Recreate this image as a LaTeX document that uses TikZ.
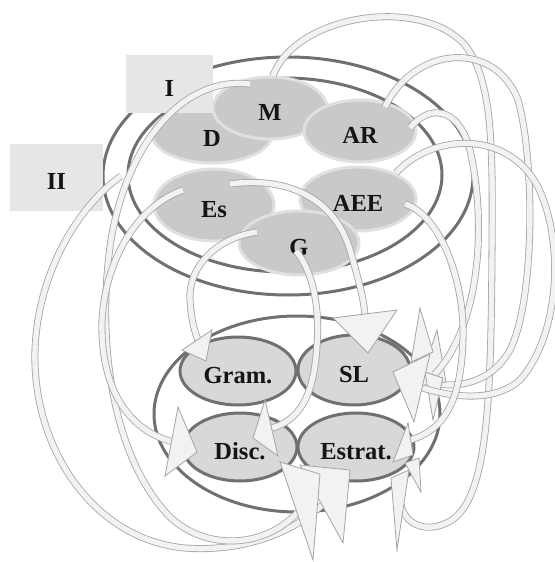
\documentclass[tikz,border=0pt]{standalone}
\usepackage{fontspec}
\setmainfont{Liberation Serif}
\usetikzlibrary{shapes.geometric}
\definecolor{ringc}{HTML}{707070}
\definecolor{topfill}{HTML}{C9C9C9}
\definecolor{topborder}{HTML}{E0E0E0}
\definecolor{ovalfill}{HTML}{D8D8D8}
\definecolor{boxfill}{HTML}{E6E6E6}
\definecolor{bandfill}{HTML}{F1F2F3}
\definecolor{bandline}{HTML}{A4A4A4}
\begin{document}
\begin{tikzpicture}[x=1pt,y=-1pt,
  lbl/.style={font=\fontsize{24.5}{28}\selectfont\bfseries, text=black!92, text height=24pt, text depth=0pt},
  ringshape/.style={ellipse, draw=ringc, line width=3pt, inner sep=0pt},
  topnode/.style={ellipse, fill=topfill, draw=topborder, line width=3pt, inner sep=0pt, lbl},
  oval/.style={ellipse, fill=ovalfill, draw=ringc, line width=3pt, inner sep=0pt, lbl},
  boxnode/.style={rectangle, fill=boxfill, inner sep=0pt, lbl},
  band/.style={draw=bandline, line width=7pt, postaction={draw=bandfill, line width=5.4pt}},
  head/.style={draw=bandline, fill=bandfill, line width=0.8pt, line join=miter}]
\useasboundingbox (0,0) rectangle (554,562);

% top level rings
\node[ringshape, minimum width=370pt, minimum height=238pt] (outerA) at (288,176) {};
\node[ringshape, minimum width=314pt, minimum height=194pt] (innerA) at (285,175) {};

% top nodes
\node[topnode, minimum width=120pt, minimum height=58pt] (D) at (212,134) {D};
\node[topnode, minimum width=114pt, minimum height=62pt] (M) at (270,108) {M};
\node[topnode, minimum width=112pt, minimum height=62pt] (AR) at (360,131) {AR};
\node[topnode, minimum width=120pt, minimum height=72pt] (Es) at (214,205) {Es};
\node[topnode, minimum width=116pt, minimum height=64pt] (AEE) at (358,199) {AEE};
\node[topnode, minimum width=120pt, minimum height=64pt] (G) at (299,243) {G};

% boxes
\node[boxnode, minimum width=87pt, minimum height=58pt] (I) at (169.5,84) {I};
\node[boxnode, minimum width=93pt, minimum height=67pt] (II) at (56.5,177.5) {II};

% bottom level
\node[ringshape, minimum width=286pt, minimum height=196pt] (outerB) at (297,414) {};
\node[oval, minimum width=116pt, minimum height=68pt] (Gram) at (238,371) {Gram.};
\node[oval, minimum width=112pt, minimum height=70pt] (SL) at (354,370) {SL};
\node[oval, minimum width=114pt, minimum height=68pt] (Disc) at (240,447) {Disc.};
\node[oval, minimum width=116pt, minimum height=68pt] (Estrat) at (356,447) {Estrat.};

% arrow end points
\coordinate (t1) at (198,340);
\coordinate (t2) at (365,316);
\coordinate (t3) at (174,442);
\coordinate (t4) at (272,428);
\coordinate (t5) at (298,512);
\coordinate (t6) at (322,505);
\coordinate (t7) at (423,388);
\coordinate (t8) at (433,383);
\coordinate (s2) at (434,375);
\coordinate (s4) at (401,505);
\coordinate (t10) at (410,440);

% --- left bands ---
\draw[band] ([shift={(64.5,-1.5)}]II.center) .. controls (80,205) and (38,270) .. (35,350)
  .. controls (32,450) and (95,540) .. (185,548) .. controls (240,552) and (290,535) .. (t6);
\draw[head] (300,465) -- (350,470) -- (343,543) -- cycle;

\draw[band] ([shift={(-20,-24)}]M.center) .. controls (185,76) and (128,140) .. (111,240)
  .. controls (96,340) and (112,455) .. (168,515) .. controls (205,552) and (265,548) .. (t5);
\draw[head] (280,462) -- (320,474) -- (313,560) -- cycle;

\draw[band] ([shift={(-31,-15)}]Es.center) .. controls (140,205) and (106,255) .. (102,320)
  .. controls (100,390) and (130,432) .. (t3);
\draw[head] (165,476) -- (178,407) -- (197,452) -- cycle;

\draw[band] ([shift={(-42,-11)}]G.center) .. controls (215,238) and (188,268) .. (190,300)
  .. controls (191,318) and (194,330) .. (t1);
\draw[head] (182,350) -- (212,330) -- (206,361) -- cycle;

\draw[band] ([shift={(-3,8)}]G.center) .. controls (312,270) and (320,305) .. (317,345)
  .. controls (314,395) and (300,420) .. (t4);
\draw[head] (265,400) -- (278,456) -- (253,438) -- cycle;

\draw[band] ([shift={(16,-21)}]Es.center) .. controls (290,176) and (335,200) .. (350,250)
  .. controls (360,285) and (364,300) .. (t2);
\draw[head] (333,318) -- (397,310) -- (368,353) -- cycle;

% --- right bands ---
\draw[band] ([shift={(3,-32)}]M.center) .. controls (295,15) and (420,-5) .. (465,45)
  .. controls (492,80) and (493,140) .. (492,250) .. controls (491,400) and (488,495) .. (452,520)
  .. controls (428,535) and (405,525) .. (s4);
\draw[head] (391,478) -- (409,470) -- (397,550) -- cycle;

\draw[band] ([shift={(25,-24)}]AR.center) .. controls (415,45) and (495,40) .. (518,100)
  .. controls (535,160) and (535,300) .. (510,350) .. controls (490,385) and (455,388) .. (t8);
\draw[head] (437,330) -- (418,386) -- (446,382) -- cycle;

\draw[band] ([shift={(50,-3)}]AR.center) .. controls (428,105) and (458,105) .. (470,150)
  .. controls (488,230) and (478,330) .. (s2);
\draw[head] (425,372) -- (443,378) -- (433,420) -- cycle;

\draw[band] ([shift={(38,-26)}]AEE.center) .. controls (430,135) and (505,128) .. (537,185)
  .. controls (565,240) and (560,335) .. (520,380) .. controls (495,402) and (455,398) .. (t7);
\draw[head] (393,372) -- (430,354) -- (414,422) -- cycle;
\draw[head] (420,308) -- (411,362) -- (433,352) -- cycle;

\draw[band] ([shift={(47,5)}]AEE.center) .. controls (440,215) and (465,280) .. (463,340)
  .. controls (461,400) and (445,430) .. (t10);
\draw[head] (393,462) -- (408,423) -- (413,455) -- cycle;
\draw[head] (405,463) -- (419,458) -- (421,492) -- cycle;
\end{tikzpicture}
\end{document}
